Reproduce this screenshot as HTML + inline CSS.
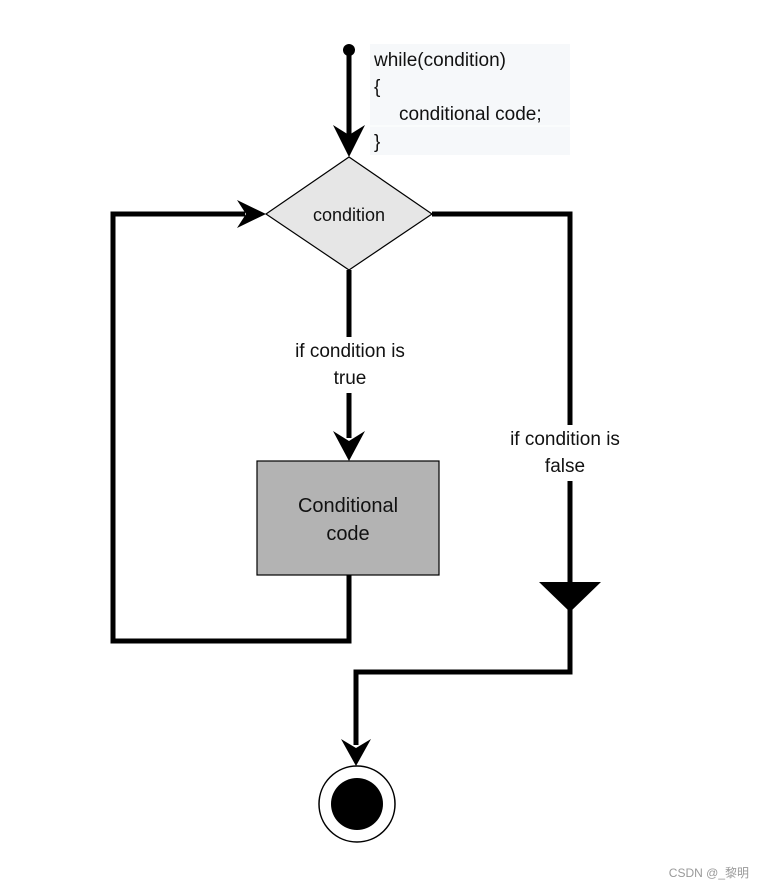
<!DOCTYPE html>
<html><head><style>body{margin:0;background:#fff}</style></head><body>
<svg width="764" height="888" viewBox="0 0 764 888" xmlns="http://www.w3.org/2000/svg" font-family="Liberation Sans, sans-serif">
<rect width="764" height="888" fill="#fff"/>
<rect x="370" y="44" width="200" height="111" fill="#f6f8fa"/>
<line x1="370" y1="126" x2="570" y2="126" stroke="#fff" stroke-width="1"/>
<g font-size="19" fill="#111">
<text x="374" y="66">while(condition)</text>
<text x="374" y="93">{</text>
<text x="399" y="120">conditional code;</text>
<text x="374" y="148">}</text>
</g>
<circle cx="349" cy="50" r="6" fill="#000"/>
<g stroke="#000" stroke-width="5" fill="none">
<line x1="349" y1="50" x2="349" y2="135"/>
<line x1="349" y1="270" x2="349" y2="438"/>
<polyline points="349,575 349,641 113,641 113,214 245,214"/>
<polyline points="432,214 570,214 570,672 356,672 356,745"/>
</g>
<polygon points="333,125 349,157 365,125 349,135" fill="#000"/>
<polygon points="333,431 349,461 365,431 349,441" fill="#000"/>
<polygon points="237,200 266,214 237,228 246,214" fill="#000"/>
<polygon points="341,739 356,766 371,739 356,748" fill="#000"/>
<polygon points="539,582 601,582 570,612" fill="#000"/>
<polygon points="266,214 349,157 432,214 349,270" fill="#e6e6e6" stroke="#000" stroke-width="1.2"/>
<text x="349" y="221" font-size="18" text-anchor="middle" fill="#111">condition</text>
<rect x="284" y="337" width="132" height="56" fill="#fff"/>
<text x="350" y="357" font-size="19" text-anchor="middle" fill="#111">if condition is</text>
<text x="350" y="384" font-size="19" text-anchor="middle" fill="#111">true</text>
<rect x="498" y="425" width="134" height="56" fill="#fff"/>
<text x="565" y="445" font-size="19" text-anchor="middle" fill="#111">if condition is</text>
<text x="565" y="472" font-size="19" text-anchor="middle" fill="#111">false</text>
<rect x="257" y="461" width="182" height="114" fill="#b3b3b3" stroke="#000" stroke-width="1.2"/>
<text x="348" y="512" font-size="20" text-anchor="middle" fill="#111">Conditional</text>
<text x="348" y="540" font-size="20" text-anchor="middle" fill="#111">code</text>
<circle cx="357" cy="804" r="38" fill="#fff" stroke="#000" stroke-width="1.5"/>
<circle cx="357" cy="804" r="26" fill="#000"/>
<text x="749" y="877" font-size="12" text-anchor="end" fill="#999" font-family="Liberation Sans, Noto Sans CJK SC, sans-serif">CSDN @_黎明</text>
</svg>
</body></html>
